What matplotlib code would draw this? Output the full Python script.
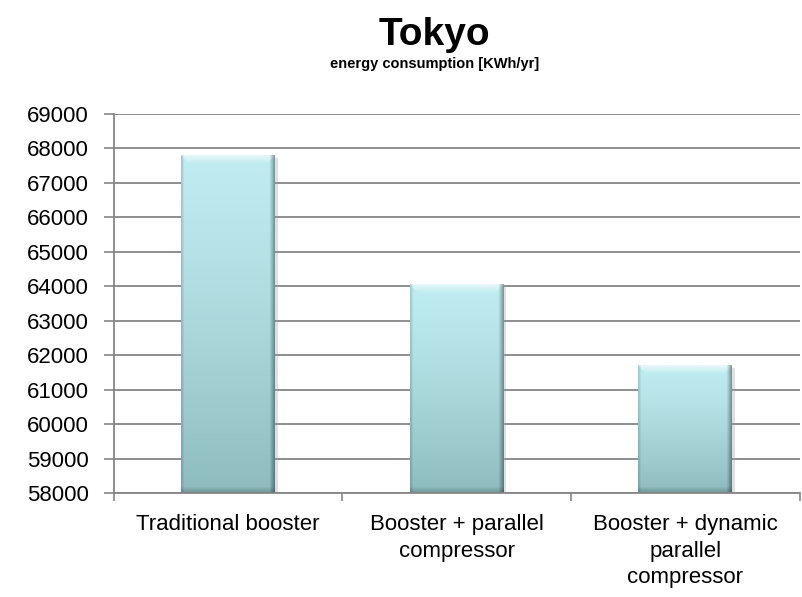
import matplotlib.pyplot as plt
import matplotlib.patheffects as pe
import numpy as np

categories = ['Traditional booster', 'Booster + parallel\ncompressor',
              'Booster + dynamic\nparallel\ncompressor']
values = [67800, 64050, 61700]
yticks = list(range(58000, 69001, 1000))

plt.rcParams['font.family'] = ['Liberation Sans', 'DejaVu Sans']

fig = plt.figure(figsize=(8.02, 5.97), dpi=100)
ax = fig.add_axes([0.142, 0.174, 0.855, 0.635])

ymin, ymax = 58000, 69000
x = np.arange(len(categories))
bars = ax.bar(x, values, width=0.41, color='#c8c8c8', edgecolor='none', zorder=2)

top_c = np.array([190, 236, 240]) / 255
bot_c = np.array([141, 187, 190]) / 255
px_per_unit = 379 / (ymax - ymin)


def bar_image(h, w=93):
    # vertical gradient with a simple bevel: light top band, darker sides/bottom
    t = np.linspace(0, 1, h)[:, None, None] ** 1.3
    img = top_c * (1 - t) + bot_c * t
    img = np.repeat(img, w, axis=1)
    for i in range(9):
        f = 0.6 * (1 - i / 9)
        img[i, i:w - i] = img[i, i:w - i] * (1 - f) + f
    for j in range(5):
        f = 0.35 * (1 - j / 5)
        img[:, w - 1 - j] *= (1 - f)
    for j in range(3):
        f = 0.15 * (1 - j / 3)
        img[:, j] *= (1 - f)
    for i in range(6):
        f = 0.2 * (1 - i / 6)
        img[h - 1 - i] *= (1 - f)
    return np.clip(img, 0, 1)


for b in bars:
    x0 = b.get_x()
    x1 = x0 + b.get_width()
    top = b.get_height()
    h = max(int(round((top - ymin) * px_per_unit)), 12)
    ax.imshow(bar_image(h), extent=[x0, x1, ymin, top], aspect='auto',
              origin='upper', zorder=2.5, interpolation='bilinear')
    b.set_path_effects([pe.SimplePatchShadow(offset=(2, -2), shadow_rgbFace='#999999', alpha=0.3)])

ax.set_xlim(-0.5, 2.5)
ax.set_ylim(ymin, ymax)
ax.set_yticks(yticks)
ax.yaxis.grid(True, color='#868686', linewidth=1.3, zorder=0)
ax.set_axisbelow(True)

ax.set_xticks(x)
ax.set_xticklabels(categories, fontsize=16, linespacing=1.35)
ax.tick_params(axis='x', length=0, pad=15)
ax.set_xticks([-0.5, 0.5, 1.5, 2.5], minor=True)
ax.tick_params(axis='x', which='minor', length=6, color='#868686', width=1.2)
ax.tick_params(axis='y', labelsize=16, length=7, color='#868686', width=1.2, pad=11)

for s in ['top', 'right']:
    ax.spines[s].set_visible(False)
for s in ['left', 'bottom']:
    ax.spines[s].set_color('#868686')
    ax.spines[s].set_linewidth(1.3)

fig.text(0.542, 0.941, 'Tokyo', ha='center', va='center', fontsize=28, fontweight='bold')
fig.text(0.542, 0.893, 'energy consumption [KWh/yr]', ha='center', va='center',
         fontsize=10.5, fontweight='bold')

fig.savefig('out.png', dpi=100)
